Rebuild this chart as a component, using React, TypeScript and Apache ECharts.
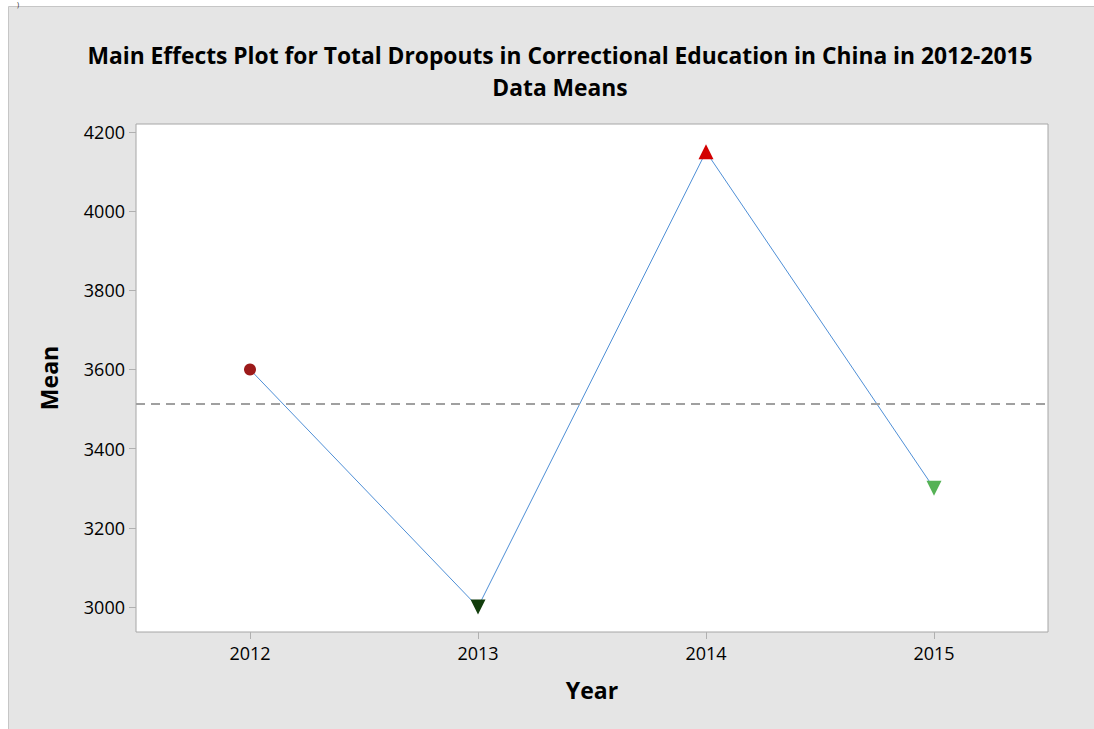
import React, { useEffect, useRef } from "react";
import * as echarts from "echarts";

const years = ["2012", "2013", "2014", "2015"];
const means = [3600, 3000, 4150, 3300];
const markerShapes = ["circle", "triangle", "triangle", "triangle"];
const markerRotations = [0, 180, 0, 180];
const markerColors = ["#9c1a1a", "#123d0c", "#d30000", "#55b255"];
const markerSizes = [12, 15, 15, 15];
const yTicks = [3000, 3200, 3400, 3600, 3800, 4000, 4200];
const titleLine1 = "Main Effects Plot for Total Dropouts in Correctional Education in China in 2012-2015";
const titleLine2 = "Data Means";

const FONT = "'Open Sans', 'Noto Sans', sans-serif";

export default function App() {
  const ref = useRef<HTMLDivElement>(null);
  useEffect(() => {
    if (!ref.current) return;
    const chart = echarts.init(ref.current, null, { renderer: "svg" });
    const grand = means.reduce((a, b) => a + b, 0) / means.length;
    chart.setOption({
      animation: false,
      backgroundColor: "#ffffff",
      graphic: [
        {
          type: "rect",
          z: -10,
          shape: { x: 8.5, y: 6.5, width: 1100, height: 740 },
          style: { fill: "#e5e5e5", stroke: "#c6c6c6", lineWidth: 1 },
          silent: true,
        },
        {
          type: "text",
          x: 17,
          y: 1,
          style: { text: ")", font: `7px ${FONT}`, fill: "#222" },
        },
      ],
      title: {
        text: titleLine1 + "\n" + titleLine2,
        left: 555,
        textAlign: "center",
        top: 34,
        textStyle: {
          fontFamily: FONT,
          fontSize: 22.8,
          fontWeight: "bold",
          color: "#000",
          lineHeight: 32,
        },
      },
      grid: {
        left: 136,
        right: 46,
        top: 124,
        bottom: 97,
        show: true,
        backgroundColor: "#ffffff",
        borderColor: "#a6a6a6",
        borderWidth: 1,
        containLabel: false,
      },
      xAxis: {
        type: "category",
        data: years,
        boundaryGap: true,
        name: "Year",
        nameLocation: "middle",
        nameGap: 46,
        nameTextStyle: { fontFamily: FONT, fontSize: 23, fontWeight: "bold", color: "#000" },
        axisLine: { show: false },
        axisTick: { show: true, alignWithLabel: true, length: 7, lineStyle: { color: "#b0b0b0" } },
        axisLabel: { fontFamily: FONT, fontSize: 18, color: "#000", margin: 12 },
        splitLine: { show: false },
      },
      yAxis: {
        type: "value",
        min: 2937,
        max: 4220,
        name: "Mean",
        nameLocation: "middle",
        nameGap: 76,
        nameTextStyle: { fontFamily: FONT, fontSize: 23, fontWeight: "bold", color: "#000" },
        axisLine: { show: false },
        axisTick: { show: true, length: 7, lineStyle: { color: "#b0b0b0" }, customValues: yTicks },
        axisLabel: {
          fontFamily: FONT,
          fontSize: 18,
          color: "#000",
          margin: 11,
          customValues: yTicks,
          formatter: (v: number) => String(v),
        },
        splitLine: { show: false },
      },
      series: [
        {
          type: "line",
          data: means.map((v, i) => ({
            value: v,
            symbol: markerShapes[i],
            symbolRotate: markerRotations[i],
            symbolSize: markerSizes[i],
            itemStyle: { color: markerColors[i] },
          })),
          lineStyle: { color: "#4f8fd6", width: 1 },
          showAllSymbol: true,
          z: 3,
          markLine: {
            silent: true,
            symbol: "none",
            label: { show: false },
            lineStyle: { color: "#a0a0a0", type: [9, 6], width: 2 },
            data: [{ yAxis: grand }],
          },
        },
      ],
    });
    return () => chart.dispose();
  }, []);
  return (
    <div
      ref={ref}
      style={{ position: "absolute", left: 0, top: 0, width: 1094, height: 729 }}
    />
  );
}
